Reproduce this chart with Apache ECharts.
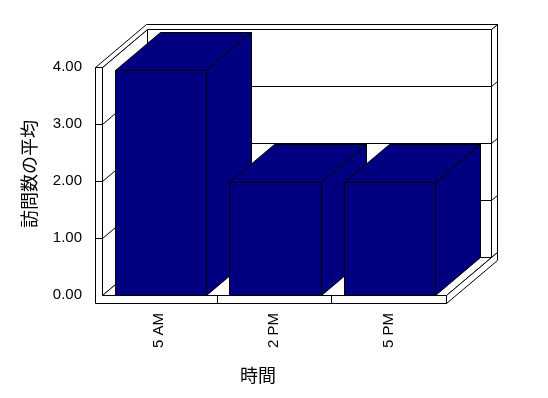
<!DOCTYPE html>
<html>
<head>
<meta charset="utf-8">
<script src="https://cdn.jsdelivr.net/npm/echarts@6/dist/echarts.min.js"></script>
<style>
html,body{margin:0;padding:0;background:#fff;}
#chart{width:548px;height:398px;}
</style>
</head>
<body>
<div id="chart"></div>
<script>
// ---- data ----
const categories = ['5 AM', '2 PM', '5 PM'];
const values = [3.94, 1.98, 1.98];
const yTicks = [0, 1, 2, 3, 4];
const yTitle = '訪問数の平均';
const xTitle = '時間';

// ---- 3D look (pixels) ----
const DX = 45, DY = -38;      // depth offset of back plane
const WALL = 7;               // left wall thickness
const BX = 6, BY = -5;        // back wall thickness
const FLOOR = 8;              // floor thickness
const BAR_FILL = '#000080';
const LINE = '#000000';

function px(v) { return Math.round(v) + 0.5; }
function P(x, y) { return [px(x), px(y)]; }

const chart = echarts.init(document.getElementById('chart'), null, { renderer: 'canvas' });

function boxRender(params, api) {
  const cs = params.coordSys;
  const L = cs.x, R = cs.x + cs.width;
  const B = api.coord([0, yTicks[0]])[1];
  const T = api.coord([0, yTicks[yTicks.length - 1]])[1];
  const st = { fill: '#ffffff', stroke: LINE, lineWidth: 1 };
  const ln = { stroke: LINE, lineWidth: 1, fill: null };
  const ch = [];
  ch.push({ type: 'polygon', shape: { points: [P(L + DX, T + DY), P(R + DX, T + DY), P(R + DX, B + DY), P(L + DX, B + DY)] }, style: st });
  ch.push({ type: 'polygon', shape: { points: [P(R + DX, T + DY), P(R + DX + BX, T + DY + BY), P(R + DX + BX, B + DY + BY), P(R + DX, B + DY)] }, style: st });
  ch.push({ type: 'polygon', shape: { points: [P(L, T), P(L + DX, T + DY), P(L + DX, B + DY), P(L, B)] }, style: st });
  ch.push({ type: 'polygon', shape: { points: [P(L, B), P(R, B), P(R + DX, B + DY), P(L + DX, B + DY)] }, style: st });
  ch.push({ type: 'polygon', shape: { points: [P(R, B), P(R + DX + BX, B + DY + BY), P(R + DX + BX, B + DY + BY + FLOOR), P(R, B + FLOOR)] }, style: st });
  ch.push({ type: 'polygon', shape: { points: [P(L - WALL, T), P(L - WALL + DX + BX, T + DY + BY), P(R + DX + BX, T + DY + BY), P(R + DX, T + DY), P(L + DX, T + DY), P(L, T)] }, style: st });
  ch.push({ type: 'polygon', shape: { points: [P(L - WALL, T), P(L, T), P(L, B), P(R, B), P(R, B + FLOOR), P(L - WALL, B + FLOOR)] }, style: st });
  for (let i = 1; i < yTicks.length - 1; i++) {
    const y = api.coord([0, yTicks[i]])[1];
    ch.push({ type: 'polyline', shape: { points: [P(L - WALL, y), P(L, y), P(L + DX, y + DY), P(R + DX, y + DY), P(R + DX + BX, y + DY + BY)] }, style: ln });
  }
  const band = cs.width / categories.length;
  for (let i = 1; i < categories.length; i++) {
    const x = L + band * i;
    ch.push({ type: 'line', shape: { x1: px(x), y1: px(B), x2: px(x), y2: px(B + FLOOR) }, style: ln });
  }
  return { type: 'group', children: ch };
}

function barRender(params, api) {
  const cat = api.value(0), v = api.value(1);
  const base = api.coord([cat, 0]);
  const top = api.coord([cat, v]);
  const w = api.size([1, 0])[0] * 0.795;
  const x0 = base[0] - w / 2 + 1, x1 = x0 + w;
  const yb = base[1], yt = top[1];
  const st = { fill: BAR_FILL, stroke: LINE, lineWidth: 1 };
  return {
    type: 'group',
    children: [
      { type: 'polygon', shape: { points: [P(x0, yt), P(x1, yt), P(x1, yb), P(x0, yb)] }, style: st },
      { type: 'polygon', shape: { points: [P(x0, yt), P(x0 + DX, yt + DY), P(x1 + DX, yt + DY), P(x1, yt)] }, style: st },
      { type: 'polygon', shape: { points: [P(x1, yt), P(x1 + DX, yt + DY), P(x1 + DX, yb + DY), P(x1, yb)] }, style: st }
    ]
  };
}

const option = {
  animation: false,
  backgroundColor: '#ffffff',
  grid: { left: 102, right: 102, top: 67, bottom: 103 },
  xAxis: {
    type: 'category',
    data: categories,
    axisLine: { show: false },
    axisTick: { show: false },
    splitLine: { show: false },
    axisLabel: { rotate: 90, margin: 18, color: '#000', fontSize: 15, fontFamily: 'Liberation Sans' }
  },
  yAxis: {
    type: 'value',
    min: yTicks[0],
    max: yTicks[yTicks.length - 1],
    interval: 1,
    axisLine: { show: false },
    axisTick: { show: false },
    splitLine: { show: false },
    axisLabel: { margin: 20, color: '#000', fontSize: 15, fontFamily: 'Liberation Sans', formatter: v => v.toFixed(2) }
  },
  graphic: [
    { type: 'text', x: 29, y: 174, rotation: Math.PI / 2, style: { text: yTitle, fill: '#000', font: '18px "Noto Sans CJK JP"', align: 'center', verticalAlign: 'middle' } },
    { type: 'text', x: 258, y: 375, style: { text: xTitle, fill: '#000', font: '18px "Noto Sans CJK JP"', align: 'center', verticalAlign: 'middle' } }
  ],
  series: [
    { type: 'custom', name: 'box', z: 1, silent: true, renderItem: boxRender, data: [[0, 0]], clip: false },
    { type: 'custom', name: 'bars', z: 2, renderItem: barRender, data: values.map((v, i) => [i, v]), clip: false }
  ]
};
chart.setOption(option);
</script>
</body>
</html>
